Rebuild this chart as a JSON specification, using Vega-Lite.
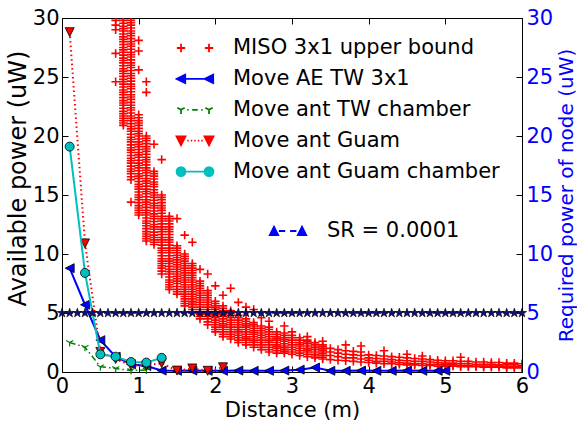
{
"$schema":"https://vega.github.io/schema/vega-lite/v6.json",
"width":460,"height":354,
"autosize":{"type":"none"},
"padding":{"left":62,"top":18,"right":55,"bottom":51},
"background":"white",
"config":{
 "font":"DejaVu Sans",
 "view":{"stroke":"black","strokeWidth":1},
 "axis":{"labelFont":"DejaVu Sans","titleFont":"DejaVu Sans","labelFontSize":21,"titleFontSize":21,"titleFontWeight":"normal","labelColor":"black","titleColor":"black","grid":false,"domain":false,"tickColor":"black","tickSize":-6,"tickWidth":1,"labelFlush":false,"labelOverlap":false},
 "legend":{"labelFont":"DejaVu Sans","labelFontSize":21,"labelColor":"black","padding":0,"labelLimit":400}
},
"datasets":{
"lines":[
{"s":"Move AE TW 3x1","d":0.1,"v":8.8},{"s":"Move AE TW 3x1","d":0.3,"v":5.7},{"s":"Move AE TW 3x1","d":0.5,"v":2.7},{"s":"Move AE TW 3x1","d":0.7,"v":1.3},{"s":"Move AE TW 3x1","d":0.9,"v":0.65},{"s":"Move AE TW 3x1","d":1.1,"v":0.5},{"s":"Move AE TW 3x1","d":1.3,"v":0.12},{"s":"Move AE TW 3x1","d":1.5,"v":0.1},{"s":"Move AE TW 3x1","d":1.7,"v":0.12},{"s":"Move AE TW 3x1","d":1.9,"v":0.1},{"s":"Move AE TW 3x1","d":2.1,"v":0.1},{"s":"Move AE TW 3x1","d":2.3,"v":0.12},{"s":"Move AE TW 3x1","d":2.5,"v":0.1},{"s":"Move AE TW 3x1","d":2.7,"v":0.1},{"s":"Move AE TW 3x1","d":2.9,"v":0.12},{"s":"Move AE TW 3x1","d":3.1,"v":0.2},{"s":"Move AE TW 3x1","d":3.3,"v":0.38},{"s":"Move AE TW 3x1","d":3.5,"v":0.1},{"s":"Move AE TW 3x1","d":3.7,"v":0.1},{"s":"Move AE TW 3x1","d":3.9,"v":0.12},{"s":"Move AE TW 3x1","d":4.1,"v":0.1},{"s":"Move AE TW 3x1","d":4.3,"v":0.1},{"s":"Move AE TW 3x1","d":4.5,"v":0.12},{"s":"Move AE TW 3x1","d":4.7,"v":0.1},{"s":"Move AE TW 3x1","d":4.9,"v":0.1},{"s":"Move AE TW 3x1","d":5.0,"v":0.1},
{"s":"Move ant TW chamber","d":0.1,"v":2.5},{"s":"Move ant TW chamber","d":0.3,"v":2.1},{"s":"Move ant TW chamber","d":0.5,"v":0.45},{"s":"Move ant TW chamber","d":0.7,"v":0.3},{"s":"Move ant TW chamber","d":0.9,"v":0.12},{"s":"Move ant TW chamber","d":1.1,"v":0.18},
{"s":"Move ant Guam","d":0.1,"v":28.8},{"s":"Move ant Guam","d":0.3,"v":10.9},{"s":"Move ant Guam","d":0.5,"v":1.7},{"s":"Move ant Guam","d":0.7,"v":1.1},{"s":"Move ant Guam","d":0.9,"v":0.55},{"s":"Move ant Guam","d":1.1,"v":0.55},{"s":"Move ant Guam","d":1.3,"v":0.75},{"s":"Move ant Guam","d":1.5,"v":0.12},{"s":"Move ant Guam","d":1.7,"v":0.3},{"s":"Move ant Guam","d":1.9,"v":0.1},{"s":"Move ant Guam","d":2.1,"v":0.4},
{"s":"Move ant Guam chamber","d":0.1,"v":19.1},{"s":"Move ant Guam chamber","d":0.3,"v":8.4},{"s":"Move ant Guam chamber","d":0.5,"v":1.5},{"s":"Move ant Guam chamber","d":0.7,"v":1.3},{"s":"Move ant Guam chamber","d":0.9,"v":0.85},{"s":"Move ant Guam chamber","d":1.1,"v":0.8},{"s":"Move ant Guam chamber","d":1.3,"v":1.2}
],
"sr":[
{"d":0.0,"v":5},{"d":0.1,"v":5},{"d":0.2,"v":5},{"d":0.3,"v":5},{"d":0.4,"v":5},{"d":0.5,"v":5},{"d":0.6,"v":5},{"d":0.7,"v":5},{"d":0.8,"v":5},{"d":0.9,"v":5},
{"d":1.0,"v":5},{"d":1.1,"v":5},{"d":1.2,"v":5},{"d":1.3,"v":5},{"d":1.4,"v":5},{"d":1.5,"v":5},{"d":1.6,"v":5},{"d":1.7,"v":5},{"d":1.8,"v":5},{"d":1.9,"v":5},
{"d":2.0,"v":5},{"d":2.1,"v":5},{"d":2.2,"v":5},{"d":2.3,"v":5},{"d":2.4,"v":5},{"d":2.5,"v":5},{"d":2.6,"v":5},{"d":2.7,"v":5},{"d":2.8,"v":5},{"d":2.9,"v":5},
{"d":3.0,"v":5},{"d":3.1,"v":5},{"d":3.2,"v":5},{"d":3.3,"v":5},{"d":3.4,"v":5},{"d":3.5,"v":5},{"d":3.6,"v":5},{"d":3.7,"v":5},{"d":3.8,"v":5},{"d":3.9,"v":5},
{"d":4.0,"v":5},{"d":4.1,"v":5},{"d":4.2,"v":5},{"d":4.3,"v":5},{"d":4.4,"v":5},{"d":4.5,"v":5},{"d":4.6,"v":5},{"d":4.7,"v":5},{"d":4.8,"v":5},{"d":4.9,"v":5},
{"d":5.0,"v":5},{"d":5.1,"v":5},{"d":5.2,"v":5},{"d":5.3,"v":5},{"d":5.4,"v":5},{"d":5.5,"v":5},{"d":5.6,"v":5},{"d":5.7,"v":5},{"d":5.8,"v":5},{"d":5.9,"v":5},
{"d":6.0,"v":5}
],
"miso":[
{"d":0.7,"v":29.8},{"d":0.7,"v":29.4},{"d":0.7,"v":29.0},{"d":0.7,"v":27.0},{"d":0.7,"v":24.6},
{"d":0.8,"v":29.8},{"d":0.8,"v":29.3},{"d":0.8,"v":28.9},{"d":0.8,"v":28.4},{"d":0.8,"v":28.0},{"d":0.8,"v":27.5},{"d":0.8,"v":27.1},{"d":0.8,"v":26.6},{"d":0.8,"v":26.2},{"d":0.8,"v":25.7},{"d":0.8,"v":25.3},{"d":0.8,"v":24.8},{"d":0.8,"v":24.4},{"d":0.8,"v":23.9},{"d":0.8,"v":23.5},{"d":0.8,"v":23.0},{"d":0.8,"v":22.6},{"d":0.8,"v":22.1},{"d":0.8,"v":21.7},{"d":0.8,"v":21.3},{"d":0.8,"v":20.9},
{"d":0.8,"v":29.55},{"d":0.8,"v":29.1},{"d":0.8,"v":28.65},{"d":0.8,"v":28.2},{"d":0.8,"v":27.75},{"d":0.8,"v":27.3},{"d":0.8,"v":26.85},{"d":0.8,"v":26.4},{"d":0.8,"v":25.95},{"d":0.8,"v":25.5},{"d":0.8,"v":25.05},{"d":0.8,"v":24.6},{"d":0.8,"v":24.15},{"d":0.8,"v":23.7},{"d":0.8,"v":23.25},{"d":0.8,"v":22.8},{"d":0.8,"v":22.35},{"d":0.8,"v":21.9},{"d":0.8,"v":21.5},{"d":0.8,"v":21.1},
{"d":0.9,"v":29.8},{"d":0.9,"v":29.4},{"d":0.9,"v":28.9},{"d":0.9,"v":28.5},{"d":0.9,"v":28.0},{"d":0.9,"v":27.6},{"d":0.9,"v":27.1},{"d":0.9,"v":26.7},{"d":0.9,"v":26.2},{"d":0.9,"v":25.8},{"d":0.9,"v":25.3},{"d":0.9,"v":24.9},{"d":0.9,"v":24.4},{"d":0.9,"v":24.0},{"d":0.9,"v":23.5},{"d":0.9,"v":23.1},{"d":0.9,"v":22.6},{"d":0.9,"v":22.2},{"d":0.9,"v":21.7},{"d":0.9,"v":21.3},{"d":0.9,"v":20.8},{"d":0.9,"v":20.4},{"d":0.9,"v":19.9},{"d":0.9,"v":19.5},{"d":0.9,"v":19.0},{"d":0.9,"v":18.6},{"d":0.9,"v":18.1},{"d":0.9,"v":17.7},{"d":0.9,"v":17.2},{"d":0.9,"v":16.8},{"d":0.9,"v":16.3},{"d":0.9,"v":14.4},
{"d":0.9,"v":29.6},{"d":0.9,"v":29.15},{"d":0.9,"v":28.7},{"d":0.9,"v":28.25},{"d":0.9,"v":27.8},{"d":0.9,"v":27.35},{"d":0.9,"v":26.9},{"d":0.9,"v":26.45},{"d":0.9,"v":26.0},{"d":0.9,"v":25.55},{"d":0.9,"v":25.1},{"d":0.9,"v":24.65},{"d":0.9,"v":24.2},{"d":0.9,"v":23.75},{"d":0.9,"v":23.3},{"d":0.9,"v":22.85},{"d":0.9,"v":22.4},{"d":0.9,"v":21.95},{"d":0.9,"v":21.5},{"d":0.9,"v":21.05},{"d":0.9,"v":20.6},{"d":0.9,"v":20.15},{"d":0.9,"v":19.7},{"d":0.9,"v":19.25},{"d":0.9,"v":18.8},{"d":0.9,"v":18.35},{"d":0.9,"v":17.9},{"d":0.9,"v":17.45},{"d":0.9,"v":17.0},{"d":0.9,"v":16.55},
{"d":1.0,"v":28.1},{"d":1.0,"v":27.2},{"d":1.0,"v":25.6},{"d":1.0,"v":21.8},{"d":1.0,"v":21.3},{"d":1.0,"v":20.9},{"d":1.0,"v":20.4},{"d":1.0,"v":20.0},{"d":1.0,"v":19.5},{"d":1.0,"v":19.1},{"d":1.0,"v":18.6},{"d":1.0,"v":18.2},{"d":1.0,"v":17.7},{"d":1.0,"v":17.3},{"d":1.0,"v":16.8},{"d":1.0,"v":16.4},{"d":1.0,"v":15.9},{"d":1.0,"v":15.5},{"d":1.0,"v":15.0},{"d":1.0,"v":14.6},{"d":1.0,"v":14.1},{"d":1.0,"v":13.7},{"d":1.0,"v":13.3},
{"d":1.0,"v":21.55},{"d":1.0,"v":21.1},{"d":1.0,"v":20.65},{"d":1.0,"v":20.2},{"d":1.0,"v":19.75},{"d":1.0,"v":19.3},{"d":1.0,"v":18.85},{"d":1.0,"v":18.4},{"d":1.0,"v":17.95},{"d":1.0,"v":17.5},{"d":1.0,"v":17.05},{"d":1.0,"v":16.6},{"d":1.0,"v":16.15},{"d":1.0,"v":15.7},{"d":1.0,"v":15.25},{"d":1.0,"v":14.8},{"d":1.0,"v":14.35},{"d":1.0,"v":13.9},{"d":1.0,"v":13.5},
{"d":1.1,"v":24.6},{"d":1.1,"v":23.7},{"d":1.1,"v":20.0},{"d":1.1,"v":19.6},{"d":1.1,"v":19.1},{"d":1.1,"v":18.7},{"d":1.1,"v":18.2},{"d":1.1,"v":17.8},{"d":1.1,"v":17.3},{"d":1.1,"v":16.9},{"d":1.1,"v":16.4},{"d":1.1,"v":16.0},{"d":1.1,"v":15.5},{"d":1.1,"v":15.1},{"d":1.1,"v":14.6},{"d":1.1,"v":14.2},{"d":1.1,"v":13.7},{"d":1.1,"v":13.3},{"d":1.1,"v":12.8},{"d":1.1,"v":12.4},{"d":1.1,"v":11.9},{"d":1.1,"v":11.5},{"d":1.1,"v":11.1},
{"d":1.1,"v":19.8},{"d":1.1,"v":19.35},{"d":1.1,"v":18.9},{"d":1.1,"v":18.45},{"d":1.1,"v":18.0},{"d":1.1,"v":17.55},{"d":1.1,"v":17.1},{"d":1.1,"v":16.65},{"d":1.1,"v":16.2},{"d":1.1,"v":15.75},{"d":1.1,"v":15.3},{"d":1.1,"v":14.85},{"d":1.1,"v":14.4},{"d":1.1,"v":13.95},{"d":1.1,"v":13.5},{"d":1.1,"v":13.05},{"d":1.1,"v":12.6},{"d":1.1,"v":12.15},{"d":1.1,"v":11.7},{"d":1.1,"v":11.3},
{"d":1.2,"v":19.3},{"d":1.2,"v":17.0},{"d":1.2,"v":16.6},{"d":1.2,"v":16.1},{"d":1.2,"v":15.7},{"d":1.2,"v":15.2},{"d":1.2,"v":14.8},{"d":1.2,"v":14.3},{"d":1.2,"v":13.9},{"d":1.2,"v":13.4},{"d":1.2,"v":13.0},{"d":1.2,"v":12.5},{"d":1.2,"v":12.1},{"d":1.2,"v":11.6},{"d":1.2,"v":11.2},{"d":1.2,"v":10.8},
{"d":1.2,"v":16.8},{"d":1.2,"v":16.35},{"d":1.2,"v":15.9},{"d":1.2,"v":15.45},{"d":1.2,"v":15.0},{"d":1.2,"v":14.55},{"d":1.2,"v":14.1},{"d":1.2,"v":13.65},{"d":1.2,"v":13.2},{"d":1.2,"v":12.75},{"d":1.2,"v":12.3},{"d":1.2,"v":11.85},{"d":1.2,"v":11.4},{"d":1.2,"v":11.0},
{"d":1.3,"v":18.0},{"d":1.3,"v":15.0},{"d":1.3,"v":14.6},{"d":1.3,"v":14.1},{"d":1.3,"v":13.7},{"d":1.3,"v":13.2},{"d":1.3,"v":12.8},{"d":1.3,"v":12.3},{"d":1.3,"v":11.9},{"d":1.3,"v":11.4},{"d":1.3,"v":11.0},{"d":1.3,"v":10.5},{"d":1.3,"v":10.1},{"d":1.3,"v":9.6},{"d":1.3,"v":9.2},{"d":1.3,"v":8.8},{"d":1.3,"v":8.3},
{"d":1.3,"v":14.8},{"d":1.3,"v":14.35},{"d":1.3,"v":13.9},{"d":1.3,"v":13.45},{"d":1.3,"v":13.0},{"d":1.3,"v":12.55},{"d":1.3,"v":12.1},{"d":1.3,"v":11.65},{"d":1.3,"v":11.2},{"d":1.3,"v":10.75},{"d":1.3,"v":10.3},{"d":1.3,"v":9.85},{"d":1.3,"v":9.4},{"d":1.3,"v":9.0},{"d":1.3,"v":8.55},
{"d":1.4,"v":13.2},{"d":1.4,"v":12.8},{"d":1.4,"v":12.3},{"d":1.4,"v":11.9},{"d":1.4,"v":11.4},{"d":1.4,"v":11.0},{"d":1.4,"v":10.5},{"d":1.4,"v":10.1},{"d":1.4,"v":9.6},{"d":1.4,"v":9.2},{"d":1.4,"v":8.7},{"d":1.4,"v":8.3},{"d":1.4,"v":7.8},{"d":1.4,"v":7.4},{"d":1.4,"v":7.0},
{"d":1.4,"v":13.0},{"d":1.4,"v":12.55},{"d":1.4,"v":12.1},{"d":1.4,"v":11.65},{"d":1.4,"v":11.2},{"d":1.4,"v":10.75},{"d":1.4,"v":10.3},{"d":1.4,"v":9.85},{"d":1.4,"v":9.4},{"d":1.4,"v":8.95},{"d":1.4,"v":8.5},{"d":1.4,"v":8.05},{"d":1.4,"v":7.6},{"d":1.4,"v":7.2},
{"d":1.5,"v":13.0},{"d":1.5,"v":10.7},{"d":1.5,"v":10.3},{"d":1.5,"v":9.9},{"d":1.5,"v":9.5},{"d":1.5,"v":9.1},{"d":1.5,"v":8.7},{"d":1.5,"v":8.3},{"d":1.5,"v":7.9},{"d":1.5,"v":7.5},{"d":1.5,"v":7.0},{"d":1.5,"v":6.6},
{"d":1.5,"v":10.5},{"d":1.5,"v":10.1},{"d":1.5,"v":9.7},{"d":1.5,"v":9.3},{"d":1.5,"v":8.9},{"d":1.5,"v":8.5},{"d":1.5,"v":8.1},{"d":1.5,"v":7.7},{"d":1.5,"v":7.25},{"d":1.5,"v":6.8},
{"d":1.6,"v":11.6},{"d":1.6,"v":10.0},{"d":1.6,"v":9.6},{"d":1.6,"v":9.2},{"d":1.6,"v":8.8},{"d":1.6,"v":8.4},{"d":1.6,"v":8.0},{"d":1.6,"v":7.6},{"d":1.6,"v":7.2},{"d":1.6,"v":6.8},{"d":1.6,"v":6.4},{"d":1.6,"v":6.0},{"d":1.6,"v":5.6},
{"d":1.6,"v":9.8},{"d":1.6,"v":9.4},{"d":1.6,"v":9.0},{"d":1.6,"v":8.6},{"d":1.6,"v":8.2},{"d":1.6,"v":7.8},{"d":1.6,"v":7.4},{"d":1.6,"v":7.0},{"d":1.6,"v":6.6},{"d":1.6,"v":6.2},{"d":1.6,"v":5.8},
{"d":1.7,"v":11.0},{"d":1.7,"v":9.2},{"d":1.7,"v":8.8},{"d":1.7,"v":8.4},{"d":1.7,"v":8.0},{"d":1.7,"v":7.6},{"d":1.7,"v":7.2},{"d":1.7,"v":6.8},{"d":1.7,"v":6.4},{"d":1.7,"v":6.0},{"d":1.7,"v":5.7},{"d":1.7,"v":5.3},
{"d":1.7,"v":9.0},{"d":1.7,"v":8.6},{"d":1.7,"v":8.2},{"d":1.7,"v":7.8},{"d":1.7,"v":7.4},{"d":1.7,"v":7.0},{"d":1.7,"v":6.6},{"d":1.7,"v":6.2},{"d":1.7,"v":5.85},{"d":1.7,"v":5.5},
{"d":1.8,"v":8.7},{"d":1.8,"v":7.7},{"d":1.8,"v":7.3},{"d":1.8,"v":6.9},{"d":1.8,"v":6.5},{"d":1.8,"v":6.1},{"d":1.8,"v":5.7},{"d":1.8,"v":5.3},{"d":1.8,"v":4.9},{"d":1.8,"v":4.5},
{"d":1.8,"v":7.5},{"d":1.8,"v":7.1},{"d":1.8,"v":6.7},{"d":1.8,"v":6.3},{"d":1.8,"v":5.9},{"d":1.8,"v":5.5},{"d":1.8,"v":5.1},{"d":1.8,"v":4.7},
{"d":1.9,"v":8.3},{"d":1.9,"v":6.9},{"d":1.9,"v":6.5},{"d":1.9,"v":6.1},{"d":1.9,"v":5.7},{"d":1.9,"v":5.3},{"d":1.9,"v":4.9},{"d":1.9,"v":4.5},{"d":1.9,"v":4.0},
{"d":1.9,"v":6.7},{"d":1.9,"v":6.3},{"d":1.9,"v":5.9},{"d":1.9,"v":5.5},{"d":1.9,"v":5.1},{"d":1.9,"v":4.7},{"d":1.9,"v":4.25},
{"d":2.0,"v":7.3},{"d":2.0,"v":6.0},{"d":2.0,"v":5.6},{"d":2.0,"v":5.3},{"d":2.0,"v":4.9},{"d":2.0,"v":4.6},{"d":2.0,"v":4.2},{"d":2.0,"v":3.8},{"d":2.0,"v":3.4},
{"d":2.0,"v":5.8},{"d":2.0,"v":5.45},{"d":2.0,"v":5.1},{"d":2.0,"v":4.75},{"d":2.0,"v":4.4},{"d":2.0,"v":4.0},{"d":2.0,"v":3.6},
{"d":2.1,"v":6.5},{"d":2.1,"v":5.6},{"d":2.1,"v":5.2},{"d":2.1,"v":4.9},{"d":2.1,"v":4.5},{"d":2.1,"v":4.1},{"d":2.1,"v":3.8},{"d":2.1,"v":3.4},{"d":2.1,"v":3.0},
{"d":2.1,"v":5.4},{"d":2.1,"v":5.05},{"d":2.1,"v":4.7},{"d":2.1,"v":4.3},{"d":2.1,"v":3.95},{"d":2.1,"v":3.6},{"d":2.1,"v":3.2},
{"d":2.2,"v":7.1},{"d":2.2,"v":5.2},{"d":2.2,"v":4.8},{"d":2.2,"v":4.4},{"d":2.2,"v":4.0},{"d":2.2,"v":3.6},{"d":2.2,"v":3.2},{"d":2.2,"v":2.8},
{"d":2.2,"v":5.0},{"d":2.2,"v":4.6},{"d":2.2,"v":4.2},{"d":2.2,"v":3.8},{"d":2.2,"v":3.4},{"d":2.2,"v":3.0},
{"d":2.3,"v":5.9},{"d":2.3,"v":4.8},{"d":2.3,"v":4.4},{"d":2.3,"v":4.0},{"d":2.3,"v":3.6},{"d":2.3,"v":3.3},{"d":2.3,"v":2.9},{"d":2.3,"v":2.5},
{"d":2.3,"v":4.6},{"d":2.3,"v":4.2},{"d":2.3,"v":3.8},{"d":2.3,"v":3.45},{"d":2.3,"v":3.1},{"d":2.3,"v":2.7},
{"d":2.4,"v":5.5},{"d":2.4,"v":4.5},{"d":2.4,"v":4.1},{"d":2.4,"v":3.8},{"d":2.4,"v":3.4},{"d":2.4,"v":3.0},{"d":2.4,"v":2.7},{"d":2.4,"v":2.3},
{"d":2.4,"v":4.3},{"d":2.4,"v":3.95},{"d":2.4,"v":3.6},{"d":2.4,"v":3.2},{"d":2.4,"v":2.85},{"d":2.4,"v":2.5},
{"d":2.5,"v":5.3},{"d":2.5,"v":4.2},{"d":2.5,"v":3.9},{"d":2.5,"v":3.5},{"d":2.5,"v":3.2},{"d":2.5,"v":2.8},{"d":2.5,"v":2.5},{"d":2.5,"v":2.1},
{"d":2.5,"v":4.05},{"d":2.5,"v":3.7},{"d":2.5,"v":3.35},{"d":2.5,"v":3.0},{"d":2.5,"v":2.65},{"d":2.5,"v":2.3},
{"d":2.6,"v":4.6},{"d":2.6,"v":3.9},{"d":2.6,"v":3.5},{"d":2.6,"v":3.1},{"d":2.6,"v":2.7},{"d":2.6,"v":2.3},{"d":2.6,"v":1.9},
{"d":2.6,"v":3.7},{"d":2.6,"v":3.3},{"d":2.6,"v":2.9},{"d":2.6,"v":2.5},{"d":2.6,"v":2.1},
{"d":2.7,"v":4.3},{"d":2.7,"v":3.8},{"d":2.7,"v":3.6},{"d":2.7,"v":3.2},{"d":2.7,"v":2.8},{"d":2.7,"v":2.5},{"d":2.7,"v":2.1},{"d":2.7,"v":1.7},
{"d":2.7,"v":3.4},{"d":2.7,"v":3.0},{"d":2.7,"v":2.65},{"d":2.7,"v":2.3},{"d":2.7,"v":1.9},
{"d":2.8,"v":3.4},{"d":2.8,"v":3.0},{"d":2.8,"v":2.7},{"d":2.8,"v":2.3},{"d":2.8,"v":2.0},{"d":2.8,"v":1.6},
{"d":2.8,"v":3.2},{"d":2.8,"v":2.85},{"d":2.8,"v":2.5},{"d":2.8,"v":2.15},{"d":2.8,"v":1.8},
{"d":2.9,"v":3.9},{"d":2.9,"v":3.3},{"d":2.9,"v":2.9},{"d":2.9,"v":2.6},{"d":2.9,"v":2.2},{"d":2.9,"v":1.9},{"d":2.9,"v":1.6},
{"d":2.9,"v":3.1},{"d":2.9,"v":2.75},{"d":2.9,"v":2.4},{"d":2.9,"v":2.05},{"d":2.9,"v":1.75},
{"d":3.0,"v":3.4},{"d":3.0,"v":3.1},{"d":3.0,"v":2.7},{"d":3.0,"v":2.3},{"d":3.0,"v":1.9},{"d":3.0,"v":1.5},
{"d":3.0,"v":2.9},{"d":3.0,"v":2.5},{"d":3.0,"v":2.1},{"d":3.0,"v":1.7},
{"d":3.1,"v":2.9},{"d":3.1,"v":2.5},{"d":3.1,"v":2.2},{"d":3.1,"v":1.8},{"d":3.1,"v":1.4},
{"d":3.1,"v":2.7},{"d":3.1,"v":2.35},{"d":3.1,"v":2.0},{"d":3.1,"v":1.6},
{"d":3.2,"v":3.0},{"d":3.2,"v":2.7},{"d":3.2,"v":2.4},{"d":3.2,"v":2.0},{"d":3.2,"v":1.7},{"d":3.2,"v":1.3},
{"d":3.2,"v":2.55},{"d":3.2,"v":2.2},{"d":3.2,"v":1.85},{"d":3.2,"v":1.5},
{"d":3.3,"v":2.5},{"d":3.3,"v":2.2},{"d":3.3,"v":1.9},{"d":3.3,"v":1.5},{"d":3.3,"v":1.2},
{"d":3.3,"v":2.35},{"d":3.3,"v":2.05},{"d":3.3,"v":1.7},{"d":3.3,"v":1.35},
{"d":3.4,"v":2.6},{"d":3.4,"v":2.3},{"d":3.4,"v":2.0},{"d":3.4,"v":1.7},{"d":3.4,"v":1.4},{"d":3.4,"v":1.1},
{"d":3.4,"v":2.15},{"d":3.4,"v":1.85},{"d":3.4,"v":1.55},{"d":3.4,"v":1.25},
{"d":3.5,"v":2.0},{"d":3.5,"v":1.7},{"d":3.5,"v":1.4},{"d":3.5,"v":1.05},
{"d":3.6,"v":1.9},{"d":3.6,"v":1.6},{"d":3.6,"v":1.3},{"d":3.6,"v":1.0},
{"d":3.7,"v":2.3},{"d":3.7,"v":1.8},{"d":3.7,"v":1.5},{"d":3.7,"v":1.2},{"d":3.7,"v":0.95},
{"d":3.8,"v":1.75},{"d":3.8,"v":1.45},{"d":3.8,"v":1.2},{"d":3.8,"v":0.9},
{"d":3.9,"v":2.2},{"d":3.9,"v":1.7},{"d":3.9,"v":1.4},{"d":3.9,"v":1.1},{"d":3.9,"v":0.85},
{"d":4.0,"v":1.45},{"d":4.0,"v":1.2},{"d":4.0,"v":1.0},{"d":4.0,"v":0.8},
{"d":4.1,"v":1.4},{"d":4.1,"v":1.15},{"d":4.1,"v":0.9},{"d":4.1,"v":0.75},
{"d":4.2,"v":1.8},{"d":4.2,"v":1.35},{"d":4.2,"v":1.1},{"d":4.2,"v":0.9},{"d":4.2,"v":0.7},
{"d":4.3,"v":1.3},{"d":4.3,"v":1.05},{"d":4.3,"v":0.85},{"d":4.3,"v":0.7},
{"d":4.4,"v":1.25},{"d":4.4,"v":1.0},{"d":4.4,"v":0.8},{"d":4.4,"v":0.65},
{"d":4.5,"v":1.5},{"d":4.5,"v":1.2},{"d":4.5,"v":0.95},{"d":4.5,"v":0.75},{"d":4.5,"v":0.6},
{"d":4.6,"v":1.15},{"d":4.6,"v":0.9},{"d":4.6,"v":0.7},{"d":4.6,"v":0.6},
{"d":4.7,"v":1.35},{"d":4.7,"v":1.1},{"d":4.7,"v":0.9},{"d":4.7,"v":0.7},{"d":4.7,"v":0.55},
{"d":4.8,"v":1.05},{"d":4.8,"v":0.85},{"d":4.8,"v":0.65},{"d":4.8,"v":0.55},
{"d":4.9,"v":1.0},{"d":4.9,"v":0.8},{"d":4.9,"v":0.65},{"d":4.9,"v":0.5},
{"d":5.0,"v":0.95},{"d":5.0,"v":0.75},{"d":5.0,"v":0.6},{"d":5.0,"v":0.5},
{"d":5.1,"v":0.95},{"d":5.1,"v":0.75},{"d":5.1,"v":0.6},{"d":5.1,"v":0.5},
{"d":5.2,"v":1.25},{"d":5.2,"v":0.9},{"d":5.2,"v":0.7},{"d":5.2,"v":0.55},{"d":5.2,"v":0.45},
{"d":5.3,"v":0.9},{"d":5.3,"v":0.7},{"d":5.3,"v":0.55},{"d":5.3,"v":0.45},
{"d":5.4,"v":0.85},{"d":5.4,"v":0.65},{"d":5.4,"v":0.5},{"d":5.4,"v":0.45},
{"d":5.5,"v":0.85},{"d":5.5,"v":0.65},{"d":5.5,"v":0.5},{"d":5.5,"v":0.4},
{"d":5.6,"v":0.8},{"d":5.6,"v":0.65},{"d":5.6,"v":0.5},{"d":5.6,"v":0.4},
{"d":5.7,"v":0.8},{"d":5.7,"v":0.6},{"d":5.7,"v":0.5},{"d":5.7,"v":0.4},
{"d":5.8,"v":0.75},{"d":5.8,"v":0.6},{"d":5.8,"v":0.45},{"d":5.8,"v":0.35},
{"d":5.9,"v":0.75},{"d":5.9,"v":0.6},{"d":5.9,"v":0.45},{"d":5.9,"v":0.35},
{"d":6.0,"v":0.7},{"d":6.0,"v":0.55},{"d":6.0,"v":0.45},{"d":6.0,"v":0.35}
]
},
"layer":[
{
 "encoding":{
  "x":{"field":"d","type":"quantitative","scale":{"domain":[0,6],"nice":false},"axis":{"values":[0,1,2,3,4,5,6],"title":"Distance (m)","labelPadding":9,"titlePadding":3}},
  "y":{"field":"v","type":"quantitative","scale":{"domain":[0,30],"nice":false},"axis":{"values":[0,5,10,15,20,25,30],"title":"Available power (uW)","titleFontSize":24,"titleY":160,"labelPadding":9,"titlePadding":2}}
 },
 "layer":[
  {"data":{"name":"miso"},"mark":{"type":"point","shape":"M-1,0H1M0,-1V1","size":72,"filled":false,"color":"#ff0000","strokeWidth":1.6,"opacity":1,"clip":true}},
  {"data":{"name":"lines"},"transform":[{"filter":"datum.s === 'Move AE TW 3x1'"}],"mark":{"type":"line","color":"#0000ff","strokeWidth":2}},
  {"data":{"name":"lines"},"transform":[{"filter":"datum.s === 'Move AE TW 3x1'"}],"mark":{"type":"point","shape":"M-1,0L1,-1L1,1Z","size":81,"filled":true,"fill":"#0000ff","stroke":"#000000","strokeWidth":0.8,"opacity":1}},
  {"data":{"name":"lines"},"transform":[{"filter":"datum.s === 'Move ant TW chamber'"}],"mark":{"type":"line","color":"#008000","strokeWidth":1.5,"strokeDash":[6,3,1.5,3]}},
  {"data":{"name":"lines"},"transform":[{"filter":"datum.s === 'Move ant TW chamber'"}],"mark":{"type":"point","shape":"M0,0L0,1M0,0L-0.87,-0.5M0,0L0.87,-0.5","size":64,"filled":false,"color":"#008000","strokeWidth":1.2,"opacity":1}},
  {"data":{"name":"lines"},"transform":[{"filter":"datum.s === 'Move ant Guam'"}],"mark":{"type":"line","color":"#ff0000","strokeWidth":2,"strokeDash":[1.5,3]}},
  {"data":{"name":"lines"},"transform":[{"filter":"datum.s === 'Move ant Guam'"}],"mark":{"type":"point","shape":"M-1,-1L1,-1L0,1Z","size":81,"filled":true,"fill":"#ff0000","stroke":"#000000","strokeWidth":0.8,"opacity":1}},
  {"data":{"name":"lines"},"transform":[{"filter":"datum.s === 'Move ant Guam chamber'"}],"mark":{"type":"line","color":"#00bfbf","strokeWidth":2}},
  {"data":{"name":"lines"},"transform":[{"filter":"datum.s === 'Move ant Guam chamber'"}],"mark":{"type":"point","shape":"circle","size":81,"filled":true,"fill":"#00bfbf","stroke":"#000000","strokeWidth":0.8,"opacity":1}},
  {"data":{"name":"lines"},"mark":{"type":"point","opacity":0,"filled":true},
   "encoding":{
    "shape":{"field":"s","type":"nominal","scale":{"domain":["MISO 3x1 upper bound","Move AE TW 3x1","Move ant TW chamber","Move ant Guam","Move ant Guam chamber"],"range":["M-1.3,0H-0.7M-1,-0.3V0.3M0.7,0H1.3M1,-0.3V0.3","M-1,0H1M-1.3,0L-0.7,-0.3L-0.7,0.3ZM0.7,0L1.3,-0.3L1.3,0.3Z","M-1,0L-1,0.3M-1,0L-1.26,-0.15M-1,0L-0.74,-0.15M1,0L1,0.3M1,0L0.74,-0.15M1,0L1.26,-0.15M-0.55,0H-0.45M-0.2,0H0.2M0.45,0H0.55","M-0.55,0H-0.45M-0.3,0H-0.2M-0.05,0H0.05M0.2,0H0.3M0.45,0H0.55M-1.32,-0.3L-0.68,-0.3L-1,0.32ZM0.68,-0.3L1.32,-0.3L1,0.32Z","M-0.68,0H0.68M-0.68,0A0.32,0.32,0,1,1,-1.32,0A0.32,0.32,0,1,1,-0.68,0ZM1.32,0A0.32,0.32,0,1,1,0.68,0A0.32,0.32,0,1,1,1.32,0Z"]},
     "legend":{"title":null,"orient":"none","legendX":118,"legendY":15,"symbolSize":784,"symbolStrokeWidth":1.8,"symbolOpacity":1,"labelOffset":23,"rowPadding":5.9,"labelFontSize":21,"labelFont":"DejaVu Sans","labelLimit":400}},
    "fill":{"field":"s","type":"nominal","scale":{"domain":["MISO 3x1 upper bound","Move AE TW 3x1","Move ant TW chamber","Move ant Guam","Move ant Guam chamber"],"range":["transparent","#0000ff","transparent","#ff0000","#00bfbf"]},
     "legend":{"title":null,"orient":"none","legendX":118,"legendY":15,"symbolSize":784,"symbolStrokeWidth":1.8,"symbolOpacity":1,"labelOffset":23,"rowPadding":5.9,"labelFontSize":21,"labelFont":"DejaVu Sans","labelLimit":400}},
    "stroke":{"field":"s","type":"nominal","scale":{"domain":["MISO 3x1 upper bound","Move AE TW 3x1","Move ant TW chamber","Move ant Guam","Move ant Guam chamber"],"range":["#ff0000","#0000ff","#008000","#ff0000","#00bfbf"]},
     "legend":{"title":null,"orient":"none","legendX":118,"legendY":15,"symbolSize":784,"symbolStrokeWidth":1.8,"symbolOpacity":1,"labelOffset":23,"rowPadding":5.9,"labelFontSize":21,"labelFont":"DejaVu Sans","labelLimit":400}}
   }}
 ]
},
{
 "data":{"name":"sr"},
 "encoding":{
  "x":{"field":"d","type":"quantitative","scale":{"domain":[0,6],"nice":false},"axis":{"orient":"top","values":[0,1,2,3,4,5,6],"labels":false,"title":null}},
  "y":{"field":"v","type":"quantitative","scale":{"domain":[0,30],"nice":false},"axis":{"orient":"right","values":[0,5,10,15,20,25,30],"title":"Required power of node (uW)","titleFontSize":20,"titleAngle":270,"titleBaseline":"top","labelColor":"#0000ff","titleColor":"#0000ff","labelPadding":10,"titlePadding":4}}
 },
 "layer":[
  {"mark":{"type":"line","color":"#0000ff","strokeWidth":1.5,"strokeDash":[4,3]}},
  {"mark":{"type":"point","shape":"M0,-1L0.225,-0.309L0.951,-0.309L0.363,0.118L0.588,0.809L0,0.382L-0.588,0.809L-0.363,0.118L-0.951,-0.309L-0.225,-0.309Z","size":90,"filled":true,"fill":"#10107a","stroke":"#000000","strokeWidth":0.7,"opacity":1}},
  {"mark":{"type":"point","opacity":0,"filled":true},
   "encoding":{
    "shape":{"datum":"SR = 0.0001","type":"nominal","scale":{"range":["M-0.65,0H-0.2M0.15,0H0.6M-1.3,0.3L-1,-0.3L-0.7,0.3ZM0.7,0.3L1,-0.3L1.3,0.3Z"]},
     "legend":{"title":null,"orient":"none","legendX":211,"legendY":198,"symbolSize":784,"symbolStrokeWidth":1.8,"symbolOpacity":1,"labelOffset":24,"labelFontSize":21,"labelFont":"DejaVu Sans","labelLimit":400}},
    "fill":{"datum":"SR = 0.0001","type":"nominal","scale":{"range":["#0000ff"]},
     "legend":{"title":null,"orient":"none","legendX":211,"legendY":198,"symbolSize":784,"symbolStrokeWidth":1.8,"symbolOpacity":1,"labelOffset":24,"labelFontSize":21,"labelFont":"DejaVu Sans","labelLimit":400}},
    "stroke":{"datum":"SR = 0.0001","type":"nominal","scale":{"range":["#0000ff"]},
     "legend":{"title":null,"orient":"none","legendX":211,"legendY":198,"symbolSize":784,"symbolStrokeWidth":1.8,"symbolOpacity":1,"labelOffset":24,"labelFontSize":21,"labelFont":"DejaVu Sans","labelLimit":400}}
   }}
 ]
}
],
"resolve":{"scale":{"y":"independent","shape":"independent","fill":"independent","stroke":"independent"},"axis":{"x":"independent"}}
}
